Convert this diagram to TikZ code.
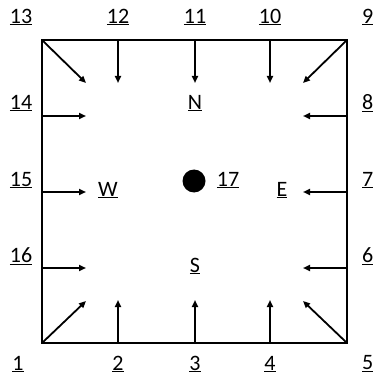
\documentclass[tikz,border=0pt]{standalone}
\usepackage{fontspec}
\setmainfont{Carlito}
\usetikzlibrary{arrows.meta}
\begin{document}
\begin{tikzpicture}[x=1pt,y=-1pt,
  lbl/.style={font=\fontsize{22}{26}\selectfont, inner sep=0pt},
  arr/.style={line width=1.8pt, -{Triangle[length=7pt,width=6pt]}},
  box/.style={line width=2pt}]
\useasboundingbox (0,0) rectangle (372,379);
% corners
\coordinate (c13) at (42,40);
\coordinate (c9) at (347,40);
\coordinate (c5) at (347,343);
\coordinate (c1) at (42,343);
\draw[box] (c13) -- (c9) -- (c5) -- (c1) -- cycle;
% arrow start points
\coordinate (s12) at (118,40); \coordinate (e12) at (118,83);
\coordinate (s11) at (195,40); \coordinate (e11) at (195,83);
\coordinate (s10) at (270,40); \coordinate (e10) at (270,83);
\coordinate (s2) at (118,343); \coordinate (e2) at (118,300);
\coordinate (s3) at (195,343); \coordinate (e3) at (195,300);
\coordinate (s4) at (270,343); \coordinate (e4) at (270,300);
\coordinate (s14) at (42,116); \coordinate (e14) at (86,116);
\coordinate (s15) at (42,192); \coordinate (e15) at (86,192);
\coordinate (s16) at (42,268); \coordinate (e16) at (86,268);
\coordinate (s8) at (347,116); \coordinate (e8) at (303,116);
\coordinate (s7) at (347,192); \coordinate (e7) at (303,192);
\coordinate (s6) at (347,268); \coordinate (e6) at (303,268);
\coordinate (e13) at (86,83);
\coordinate (e9) at (303,83);
\coordinate (e1) at (86,301);
\coordinate (e5) at (303,301);
\foreach \i in {12,11,10,2,3,4,14,15,16,8,7,6} {\draw[arr] (s\i) -- (e\i);}
\draw[arr] (c13) -- (e13);
\draw[arr] (c9) -- (e9);
\draw[arr] (c1) -- (e1);
\draw[arr] (c5) -- (e5);
% labels
\node[lbl] (l13) at (21,17) {\underline{13}};
\node[lbl] (l12) at (118,17) {\underline{12}};
\node[lbl] (l11) at (195,17) {\underline{11}};
\node[lbl] (l10) at (270,17) {\underline{10}};
\node[lbl, anchor=west] (l9) at (362,17) {\underline{9}};
\node[lbl] (l14) at (21,103) {\underline{14}};
\node[lbl, anchor=west] (l8) at (362,103) {\underline{8}};
\node[lbl] (l15) at (21,180) {\underline{15}};
\node[lbl, anchor=west] (l7) at (362,180) {\underline{7}};
\node[lbl] (l16) at (21,256) {\underline{16}};
\node[lbl, anchor=west] (l6) at (362,256) {\underline{6}};
\node[lbl] (l1) at (18,364) {\underline{1}};
\node[lbl] (l2) at (118,364) {\underline{2}};
\node[lbl] (l3) at (195,364) {\underline{3}};
\node[lbl] (l4) at (270,364) {\underline{4}};
\node[lbl, anchor=west] (l5) at (362,364) {\underline{5}};
\node[lbl] (N) at (195,103) {\underline{N}};
\node[lbl] (S) at (195,266) {\underline{S}};
\node[lbl] (W) at (108,190) {\underline{W}};
\node[lbl] (E) at (282,190) {\underline{E}};
\node[circle, fill=black, minimum size=23pt, inner sep=0pt] (dot) at (194,181) {};
\node[lbl] (l17) at (228,180) {\underline{17}};
\end{tikzpicture}
\end{document}
